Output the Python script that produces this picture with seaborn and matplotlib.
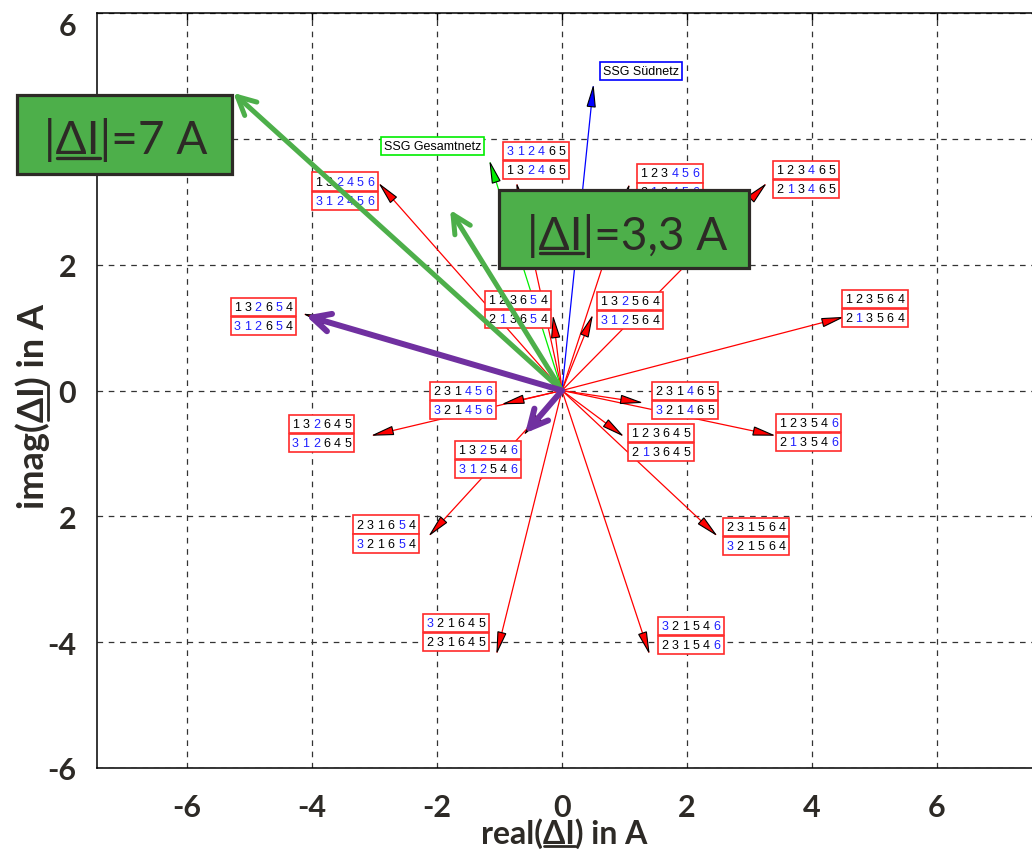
import numpy as np
import pandas as pd
import matplotlib
matplotlib.use('Agg')
import matplotlib.pyplot as plt
from matplotlib.lines import Line2D
from matplotlib.patches import Rectangle
from matplotlib.transforms import ScaledTranslation
import seaborn as sns

# switching sequences: end point of each current change (real / imag in A)
tip_re = [-2.91, -0.72, 1.07, 3.25, 4.48, -0.14, 0.48, -4.11, -0.93,
          -3.02, -0.59, -2.11, 1.26, 3.38, 0.96, 2.46, -1.04, 1.39]
tip_im = [3.27, 3.27, 3.25, 3.27, 1.16, 1.16, 1.17, 1.21, -0.21,
          -0.71, -0.68, -2.29, -0.19, -0.71, -0.71, -2.29, -4.16, -4.16]
perm_top = ['132456', '312465', '123456', '123465', '123564', '123654',
            '132564', '132654', '231456', '132645', '132546', '231654',
            '231465', '123546', '123645', '231564', '321645', '321546']
perm_bot = ['312456', '132465', '213456', '213465', '213564', '213654',
            '312564', '312654', '321456', '312645', '312546', '321654',
            '321465', '213546', '213645', '321564', '231645', '231546']
# digits printed in blue
blue_top = ['2456', '3124', '456', '4', '', '5', '2', '25', '456',
            '2', '26', '5', '4', '6', '', '', '3', '36']
blue_bot = ['312456', '24', '1456', '14', '1', '15', '312', '3125', '3456',
            '312', '3126', '35', '34', '16', '1', '3', '', '6']

# reference vectors
ssg_names = ['SSG Gesamtnetz', 'SSG Südnetz']
ssg_re = [-1.15, 0.50]
ssg_im = [3.62, 4.83]

# highlighted vectors (green: 7 A / 3.3 A, purple)
hl_re = [-5.26, -1.79, -4.10, -0.59]
hl_im = [4.73, 2.87, 1.19, -0.68]

x_ticks = [-6, -4, -2, 0, 2, 4, 6]
x_ticklabels = ['-6', '-4', '-2', '0', '2', '4', '6']
y_ticks = [-6, -4, -2, 0, 2, 4, 6]
y_ticklabels = ['-6', '-4', '2', '0', '2', '4', '6']

# label placement (left edge, centre of upper row), data units
lab_x = [-4.00, -0.94, 1.20, 3.38, 4.48, -1.23, 0.56, -5.30, -2.11,
         -4.37, -1.71, -3.34, 1.44, 3.42, 1.06, 2.58, -2.22, 1.54]
lab_y = [3.32, 3.81, 3.45, 3.50, 1.46, 1.44, 1.42, 1.33, -0.01,
         -0.53, -0.94, -2.13, -0.01, -0.52, -0.67, -2.17, -3.69, -3.74]
ssg_lab_x = [-2.90, 0.61]
ssg_lab_y = [3.89, 5.08]

RED = '#ff0000'
BLUE = '#1f1fff'
GREEN = '#4daf4a'
PURPLE = '#7030a0'
DARK = '#2d2a26'
LAB_FS = 9

sns.set_style('white')
plt.rcParams['font.family'] = ['Liberation Sans', 'DejaVu Sans']

W, H = 1032, 853
fig = plt.figure(figsize=(W / 100, H / 100), dpi=100)
ax = fig.add_axes([97 / W, (H - 769) / H, (W - 97) / W, (769 - 14) / H])

# red current vectors as lines from the origin
n = len(tip_re)
lines = pd.DataFrame({
    'id': np.repeat(np.arange(n), 2),
    're': np.ravel(np.column_stack([np.zeros(n), tip_re])),
    'im': np.ravel(np.column_stack([np.zeros(n), tip_im])),
})
sns.lineplot(data=lines, x='re', y='im', units='id', estimator=None, sort=False,
             color=RED, lw=0.9, legend=False, ax=ax, zorder=2)

ssg = pd.DataFrame({
    'name': np.repeat(ssg_names, 2),
    're': np.ravel(np.column_stack([np.zeros(2), ssg_re])),
    'im': np.ravel(np.column_stack([np.zeros(2), ssg_im])),
})
sns.lineplot(data=ssg, x='re', y='im', hue='name', sort=False,
             palette=['#00ee00', '#0000ff'], lw=0.9, legend=False, ax=ax, zorder=2)


def head(x, y, fc):
    u = np.array([x, y]) / np.hypot(x, y)
    L = 0.32
    ax.arrow(x - L * u[0], y - L * u[1], L * u[0], L * u[1], width=0,
             head_width=0.13, head_length=L, length_includes_head=True,
             fc=fc, ec='black', lw=0.8, zorder=3)


for x, y in zip(tip_re, tip_im):
    head(x, y, RED)
head(ssg_re[0], ssg_im[0], '#00ee00')
head(ssg_re[1], ssg_im[1], '#0000ff')

# two-row permutation labels
step = 0.834 * LAB_FS
pad = 0.25 * LAB_FS
row_gap = 13.7
for i in range(n):
    rows = [(perm_top[i], blue_top[i]), (perm_bot[i], blue_bot[i])]
    for r, (txt, blue) in enumerate(rows):
        dy = -r * row_gap
        ax.annotate(' '.join(txt), xy=(lab_x[i], lab_y[i]), xytext=(pad, dy),
                    textcoords='offset points', ha='left', va='center',
                    fontsize=LAB_FS, color='none', zorder=4,
                    bbox=dict(boxstyle='square,pad=0.25', fc='white', ec='#ff2a2a', lw=1.2))
        for k, ch in enumerate(txt):
            ax.annotate(ch, xy=(lab_x[i], lab_y[i]), xytext=(pad + k * step, dy),
                        textcoords='offset points', ha='left', va='center',
                        fontsize=LAB_FS, color=BLUE if ch in blue else 'black', zorder=5)

for name, x, y, ec in zip(ssg_names, ssg_lab_x, ssg_lab_y, ['#00ee00', '#0000ff']):
    ax.annotate(name, xy=(x, y), xytext=(pad, 0), textcoords='offset points',
                ha='left', va='center', fontsize=LAB_FS, color='black', zorder=4,
                bbox=dict(boxstyle='square,pad=0.25', fc='white', ec=ec, lw=1.2))

# thick highlighted arrows
for x, y, c, lw in zip(hl_re, hl_im, [GREEN, GREEN, PURPLE, PURPLE], [3.6, 3.6, 4.3, 4.3]):
    ax.annotate('', xy=(x, y), xytext=(0, 0),
                arrowprops=dict(arrowstyle='->,head_length=1.3,head_width=0.65',
                                mutation_scale=10, color=c, lw=lw,
                                shrinkA=0, shrinkB=0), zorder=6)

ax.set_xlim(-7.44, 7.52)
ax.set_ylim(-6, 6)
ax.set_xticks(x_ticks, x_ticklabels)
ax.set_yticks(y_ticks, y_ticklabels)
ax.set_axisbelow(True)
ax.grid(True, color='#333333', lw=0.9, ls=(0, (4.5, 4.5)))
ax.tick_params(direction='in', length=5, width=1, top=True, color='black',
               labelsize=22, labelcolor=DARK)
ax.tick_params(axis='x', pad=18)
ax.tick_params(axis='y', pad=15)
for lab in ax.get_xticklabels() + ax.get_yticklabels():
    lab.set_family('Lato')
    lab.set_fontweight('bold')
top_lab = ax.yaxis.get_major_ticks()[-1].label1
top_lab.set_transform(top_lab.get_transform() +
                      ScaledTranslation(0, -0.10, fig.dpi_scale_trans))
for s in ['left', 'top', 'bottom']:
    ax.spines[s].set_color('black')
    ax.spines[s].set_linewidth(1.1)
ax.spines['right'].set_visible(False)

xl = ax.set_xlabel('real(ΔI) in A', fontsize=23, fontweight='bold',
                   family='Lato', color=DARK, labelpad=-3)
yl = ax.set_ylabel('imag(ΔI) in A', fontsize=26, fontweight='bold',
                   family='Lato', color=DARK)
ax.yaxis.set_label_coords(-0.050, 0.48)

# green annotation boxes
boxes = [((17, 96, 232, 175), (126, 140.5), '|ΔI|=7 A'),
         ((499, 191, 749, 269), (627.5, 235.5), '|ΔI|=3,3 A')]
box_texts = []
for (x0, y0, x1, y1), (cx, cy), s in boxes:
    fig.add_artist(Rectangle((x0 / W, 1 - y1 / H), (x1 - x0) / W, (y1 - y0) / H,
                             transform=fig.transFigure, fc=GREEN, ec=DARK, lw=2.3, zorder=10))
    t = fig.text(cx / W, 1 - cy / H, s, ha='center', va='center', fontsize=33,
                 family='Lato', color=DARK, zorder=11)
    box_texts.append(t)

fig.canvas.draw()
rend = fig.canvas.get_renderer()


def underline(t, sub, lw, vertical=False, off=2):
    s = t.get_text()
    i = s.index(sub)
    fp = t.get_fontproperties()
    w0 = rend.get_text_width_height_descent(s[:i], fp, ismath=False)[0] if i else 0
    w1 = rend.get_text_width_height_descent(s[:i + len(sub)], fp, ismath=False)[0]
    bb = t.get_window_extent(renderer=rend)
    if vertical:
        xs = [bb.x1 - off, bb.x1 - off]
        ys = [bb.y0 + w0 + 1, bb.y0 + w1]
    else:
        xs = [bb.x0 + w0 + 1, bb.x0 + w1]
        ys = [bb.y0 + off, bb.y0 + off]
    inv = fig.transFigure.inverted()
    pts = inv.transform(np.column_stack([xs, ys]))
    fig.add_artist(Line2D(pts[:, 0], pts[:, 1], transform=fig.transFigure,
                          color=DARK, lw=lw, zorder=12))


underline(xl, 'ΔI', 2.0)
underline(yl, 'ΔI', 2.0, vertical=True)
for t in box_texts:
    underline(t, 'ΔI', 2.4, off=4)

fig.savefig('out.png', dpi=100)
